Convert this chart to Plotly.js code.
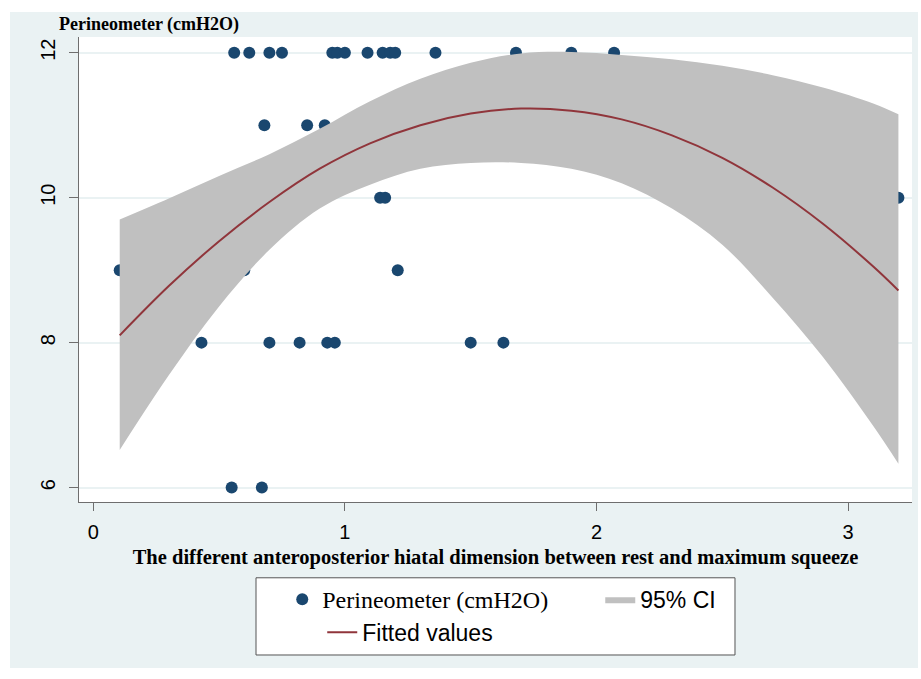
<!DOCTYPE html>
<html>
<head>
<meta charset="utf-8">
<script src="https://cdn.plot.ly/plotly-3.0.1.min.js"></script>
<style>
  html, body { margin: 0; padding: 0; background: #ffffff; }
  #chart { width: 921px; height: 679px; }
</style>
</head>
<body>
<div id="chart"></div>
<script>
// ---- Observed points (x = AP hiatal dimension difference, y = perineometer cmH2O)
var ptX = [0.56, 0.62, 0.70, 0.75, 0.95, 0.97, 1.00, 1.09, 1.15, 1.18, 1.20, 1.36, 1.68, 1.90, 2.07,
           0.68, 0.85, 0.92,
           1.14, 1.16, 3.20,
           0.105, 0.60, 1.21,
           0.43, 0.70, 0.82, 0.93, 0.96, 1.50, 1.63,
           0.55, 0.67];
var ptY = [12, 12, 12, 12, 12, 12, 12, 12, 12, 12, 12, 12, 12, 12, 12,
           11, 11, 11,
           10, 10, 10,
           9, 9, 9,
           8, 8, 8, 8, 8, 8, 8,
           6, 6];

// ---- Fitted values and 95% CI
var fitX  = [0.105, 0.3, 0.5, 0.7, 0.9, 1.1, 1.3, 1.5, 1.7, 1.9, 2.1, 2.3, 2.5, 2.7, 2.9, 3.1, 3.2];
var fitY  = [8.10, 8.78, 9.40, 9.94, 10.40, 10.75, 11.00, 11.16, 11.23, 11.20, 11.08, 10.86, 10.55, 10.14, 9.64, 9.05, 8.72];
var ciHigh = [9.70, 9.99, 10.30, 10.60, 10.95, 11.33, 11.64, 11.86, 11.99, 12.01, 11.97, 11.91, 11.82, 11.69, 11.52, 11.30, 11.15];
var ciLow  = [6.52, 7.55, 8.50, 9.28, 9.85, 10.18, 10.40, 10.48, 10.48, 10.40, 10.20, 9.85, 9.35, 8.62, 7.80, 6.85, 6.33];

// ---- Axis ticks and labels
var xTicks = [0, 1, 2, 3];
var yTicks = [6, 8, 10, 12];
var xTitle = 'The different anteroposterior hiatal dimension between rest and maximum squeeze';
var yTitle = 'Perineometer (cmH2O)';
var nameScatter = 'Perineometer (cmH2O)';
var nameCI = '95% CI';
var nameFit = 'Fitted values';

var navy = '#1A476F';
var maroon = '#90353B';
var bandGray = '#C0C0C0';
var bgLight = '#EAF2F3';
var serif = '"Liberation Serif", "Times New Roman", serif';
var sans = '"Liberation Sans", Arial, sans-serif';

var traces = [
  {
    type: 'scatter', mode: 'markers', x: ptX, y: ptY,
    name: '<span style="font-family:Liberation Serif;font-size:24px">' + nameScatter + '</span>',
    marker: { color: navy, size: 12 },
    legend: 'legend', legendwidth: 273
  },
  {
    type: 'scatter', mode: 'lines', x: fitX, y: ciLow,
    line: { width: 0, shape: 'spline', color: bandGray },
    showlegend: false, hoverinfo: 'skip'
  },
  {
    type: 'scatter', mode: 'lines', x: fitX, y: ciHigh,
    fill: 'tonexty', fillcolor: bandGray,
    line: { width: 0, shape: 'spline', color: bandGray },
    name: nameCI, legend: 'legend'
  },
  {
    type: 'scatter', mode: 'lines', x: fitX, y: fitY,
    line: { color: maroon, width: 2, shape: 'spline' },
    name: nameFit, legend: 'legend2'
  }
];

var layout = {
  width: 921, height: 679,
  margin: { l: 79, r: 9, t: 37, b: 177 },
  paper_bgcolor: '#ffffff',
  plot_bgcolor: '#ffffff',
  font: { family: sans, size: 20, color: '#000000' },
  xaxis: {
    range: [-0.0568, 3.254],
    tickvals: xTicks, ticktext: xTicks.map(String),
    showgrid: false, zeroline: false,
    showline: true, linecolor: '#6e6e6e', linewidth: 1,
    ticks: 'outside', ticklen: 8, tickcolor: '#6e6e6e', tickwidth: 1,
    ticklabelstandoff: 4,
    tickfont: { family: sans, size: 20, color: '#000' },
    title: { text: '<b>' + xTitle + '</b>', font: { family: serif, size: 20.5, color: '#000' }, standoff: 7 }
  },
  yaxis: {
    range: [5.801, 12.217],
    tickvals: yTicks, ticktext: yTicks.map(String),
    tickangle: -90,
    showgrid: true, gridcolor: bgLight, gridwidth: 2,
    zeroline: false,
    showline: true, linecolor: '#6e6e6e', linewidth: 1,
    ticks: 'outside', ticklen: 9, tickcolor: '#6e6e6e', tickwidth: 1,
    ticklabelstandoff: 6,
    tickfont: { family: sans, size: 20, color: '#000' }
  },
  showlegend: true,
  legend: {
    orientation: 'h', x: 0.244, xanchor: 'left', y: -0.163, yanchor: 'top',
    bgcolor: 'rgba(0,0,0,0)', borderwidth: 0,
    font: { family: sans, size: 23, color: '#000' },
    traceorder: 'normal'
  },
  legend2: {
    orientation: 'h', x: 0.292, xanchor: 'left', y: -0.234, yanchor: 'top',
    bgcolor: 'rgba(0,0,0,0)', borderwidth: 0,
    font: { family: sans, size: 23, color: '#000' }
  },
  shapes: [
    { type: 'rect', xref: 'paper', yref: 'paper', layer: 'below',
      x0: -0.0828, x1: 1.0072, y0: -0.357, y1: 1.0538,
      fillcolor: bgLight, line: { width: 0 } },
    { type: 'rect', xref: 'paper', yref: 'paper', layer: 'below',
      x0: 0, x1: 1, y0: 0, y1: 1,
      fillcolor: '#ffffff', line: { width: 0 } },
    { type: 'rect', xref: 'paper', yref: 'paper', layer: 'below',
      x0: 0.2125, x1: 0.7875, y0: -0.329, y1: -0.163,
      fillcolor: '#ffffff', line: { width: 1, color: '#555555' } }
  ],
  annotations: [
    { text: '<b>' + yTitle + '</b>', xref: 'paper', yref: 'paper',
      x: -0.0264, xanchor: 'left', y: 1.026, yanchor: 'middle',
      showarrow: false, font: { family: serif, size: 18, color: '#000' } }
  ]
};

Plotly.newPlot('chart', traces, layout, { displayModeBar: false, staticPlot: true });
</script>
</body>
</html>
